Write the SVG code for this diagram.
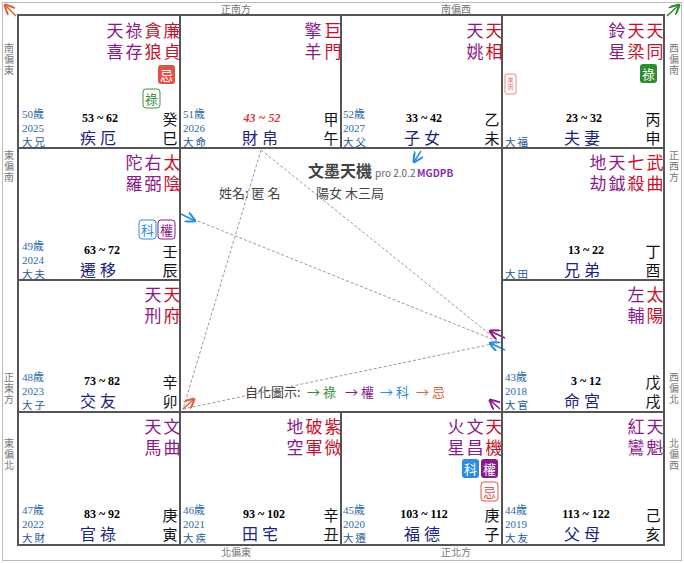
<svg xmlns="http://www.w3.org/2000/svg" width="684" height="563" viewBox="0 0 684 563">
<style>
text{font-family:"Noto Sans CJK TC","Noto Sans CJK SC",sans-serif}
.s{font-size:17px;writing-mode:tb;letter-spacing:4px}
.p{fill:#8a1a8a}.r{fill:#c8102e}
.age{font-size:11px;fill:#2e6aa8;font-family:"Liberation Serif","Noto Sans CJK TC",serif}
.dx{font-size:10.5px;fill:#1d5a9a;letter-spacing:2px}
.rg{font-size:12px;font-weight:bold;text-anchor:middle;font-family:"Liberation Serif",serif;fill:#000}
.nm{font-size:16px;fill:#1a237e;text-anchor:middle;letter-spacing:4px}
.st{font-size:15px;fill:#111;writing-mode:tb;letter-spacing:4px}
.dir{font-size:10px;fill:#777;text-anchor:middle}
.vd{font-size:10px;fill:#777;writing-mode:tb;letter-spacing:1px}
.cell{fill:none;stroke:#555;stroke-width:2}
.bt{font-size:13px;text-anchor:middle}
.ln{stroke:#999;stroke-width:1;stroke-dasharray:3,2;fill:none}
</style>
<defs>
<marker id="ab" viewBox="0 0 10 10" refX="9" refY="5" markerWidth="7" markerHeight="7" orient="auto"><path d="M0,0L10,5L0,10" fill="none" stroke="#2b8de0" stroke-width="2"/></marker>
<marker id="ap" viewBox="0 0 10 10" refX="9" refY="5" markerWidth="7" markerHeight="7" orient="auto"><path d="M0,0L10,5L0,10" fill="none" stroke="#8a1a8a" stroke-width="2"/></marker>
<marker id="ar" viewBox="0 0 10 10" refX="9" refY="5" markerWidth="7" markerHeight="7" orient="auto"><path d="M0,0L10,5L0,10" fill="none" stroke="#e06040" stroke-width="2"/></marker>
<marker id="ag" viewBox="0 0 10 10" refX="9" refY="5" markerWidth="7" markerHeight="7" orient="auto"><path d="M0,0L10,5L0,10" fill="none" stroke="#2e8b2e" stroke-width="2"/></marker>
</defs>
<rect x="0" y="0" width="684" height="563" fill="#fff"/>
<rect x="2.5" y="2.5" width="679" height="558" fill="none" stroke="#bbb"/>
<g id="directions">
<text class="dir" x="236" y="13">正南方</text><text class="dir" x="456" y="13">南偏西</text>
<text class="dir" x="236" y="556">北偏東</text><text class="dir" x="456" y="556">正北方</text>
<text class="vd" x="9" y="43">南偏東</text>
<text class="vd" x="9" y="150">東偏南</text>
<text class="vd" x="9" y="372">正東方</text>
<text class="vd" x="9" y="438">東偏北</text>
<text class="vd" x="674" y="43">西偏南</text>
<text class="vd" x="674" y="150">正西方</text>
<text class="vd" x="674" y="372">西偏北</text>
<text class="vd" x="674" y="438">北偏西</text>
</g>
<g id="connectors">
<line x1="16" y1="16" x2="5" y2="5" stroke="#e06040" stroke-width="1.5" marker-end="url(#ar)"/>
<line x1="667" y1="16" x2="679" y2="5" stroke="#2e8b2e" stroke-width="1.5" marker-end="url(#ag)"/>
<line class="ln" x1="261" y1="150" x2="183" y2="409"/>
<line class="ln" x1="261" y1="150" x2="497" y2="340"/>
<line class="ln" x1="183" y1="409" x2="497" y2="343"/>
<line class="ln" x1="193" y1="219" x2="497" y2="341"/>
<line x1="181" y1="214" x2="195" y2="221" stroke="#2b8de0" stroke-width="1.5" marker-end="url(#ab)"/>
<line x1="421" y1="151" x2="414" y2="162" stroke="#2b8de0" stroke-width="1.5" marker-end="url(#ab)"/>
<line x1="183" y1="409" x2="194" y2="399" stroke="#e06040" stroke-width="1.5" marker-end="url(#ar)"/>
<line x1="505" y1="338" x2="490" y2="331" stroke="#8a1a8a" stroke-width="1.5" marker-end="url(#ap)"/>
<line x1="505" y1="350" x2="490" y2="343" stroke="#2b8de0" stroke-width="1.5" marker-end="url(#ab)"/>
<line x1="500" y1="409" x2="490" y2="400" stroke="#8a1a8a" stroke-width="1.5" marker-end="url(#ap)"/>
</g>
<g id="center">
<text x="308" y="177" font-size="16" font-weight="bold" fill="#444">文墨天機</text>
<text x="375" y="177" font-size="10" fill="#666" font-family="Liberation Serif,serif">pro 2.0.2</text>
<text x="417" y="177" font-size="10" font-weight="bold" fill="#8a2ab0" font-family="Liberation Serif,serif">MGDPB</text>
<text x="219" y="198" font-size="13" fill="#444">姓名: 匿 名</text>
<text x="316" y="198" font-size="13" fill="#444">陽女 木三局</text>
<text x="245" y="397" font-size="13" fill="#444">自化圖示:</text>
<text x="307" y="397" font-size="13" fill="#2e8b2e">→ 祿</text>
<text x="345" y="397" font-size="13" fill="#8a1a8a">→ 權</text>
<text x="380" y="397" font-size="13" fill="#2b8de0">→ 科</text>
<text x="416" y="397" font-size="13" fill="#e06040">→ 忌</text>
</g>
<g id="palace-si">
<rect class="cell" x="18" y="15" width="162" height="133"/>
<text class="s p" x="115" y="22">天喜</text><text class="s p" x="134" y="22">祿存</text>
<text class="s r" x="153" y="22">貪狼</text><text class="s r" x="172" y="22">廉貞</text>
<rect x="158" y="65" width="17" height="19" rx="3" fill="#e0524a"/><text class="bt" x="166.5" y="80" fill="#fff">忌</text>
<rect x="143" y="89" width="17" height="19" rx="3" fill="#fff" stroke="#3a9a3a"/><text class="bt" x="151.5" y="104" fill="#2e8b2e">祿</text>
<text class="age" x="22" y="118">50歲</text><text class="age" x="22" y="132">2025</text><text class="dx" x="22" y="146">大兄</text>
<text class="rg" x="100" y="122">53 ~ 62</text><text class="nm" x="100" y="144">疾厄</text>
<text class="st" x="170" y="112">癸巳</text>
</g>
<g id="palace-wu">
<rect class="cell" x="180" y="15" width="161" height="133"/>
<text class="s p" x="313" y="22">擎羊</text><text class="s r" x="333" y="22">巨門</text>
<text class="age" x="183" y="118">51歲</text><text class="age" x="183" y="132">2026</text><text class="dx" x="183" y="146">大命</text>
<text class="rg" x="262" y="122" font-style="italic" style="fill:#d04040">43 ~ 52</text><text class="nm" x="262" y="144">財帛</text>
<text class="st" x="331" y="112">甲午</text>
</g>
<g id="palace-wei">
<rect class="cell" x="341" y="15" width="161" height="133"/>
<text class="s p" x="475" y="22">天姚</text><text class="s r" x="494" y="22">天相</text>
<text class="age" x="343" y="118">52歲</text><text class="age" x="343" y="132">2027</text><text class="dx" x="343" y="146">大父</text>
<text class="rg" x="424" y="122">33 ~ 42</text><text class="nm" x="424" y="144">子女</text>
<text class="st" x="492" y="112">乙未</text>
</g>
<g id="palace-shen">
<rect class="cell" x="502" y="15" width="162" height="133"/>
<text class="s p" x="617" y="22">鈴星</text><text class="s r" x="636" y="22">天梁</text><text class="s r" x="655" y="22">天同</text>
<rect x="640" y="64" width="17" height="19" rx="3" fill="#2e8b2e"/><text class="bt" x="648.5" y="79" fill="#fff">祿</text>
<rect x="505" y="74" width="11" height="20" rx="2" fill="#fff" stroke="#e07060" stroke-width="0.8"/>
<text x="510.5" y="77" font-size="6" fill="#e07060" writing-mode="tb" letter-spacing="1">來因</text>
<text class="dx" x="505" y="146">大福</text>
<text class="rg" x="584" y="122">23 ~ 32</text><text class="nm" x="584" y="144">夫妻</text>
<text class="st" x="653" y="112">丙申</text>
</g>
<g id="palace-chen">
<rect class="cell" x="18" y="148" width="162" height="132"/>
<text class="s p" x="134" y="154">陀羅</text><text class="s p" x="153" y="154">右弼</text><text class="s r" x="172" y="154">太陰</text>
<rect x="139" y="220" width="17" height="19" rx="3" fill="#fff" stroke="#2b8de0"/><text class="bt" x="147.5" y="235" fill="#2b8de0">科</text>
<rect x="158" y="220" width="17" height="19" rx="3" fill="#fff" stroke="#8a1a8a"/><text class="bt" x="166.5" y="235" fill="#8a1a8a">權</text>
<text class="age" x="22" y="250">49歲</text><text class="age" x="22" y="264">2024</text><text class="dx" x="22" y="278">大夫</text>
<text class="rg" x="102" y="254">63 ~ 72</text><text class="nm" x="100" y="276">遷移</text>
<text class="st" x="170" y="244">壬辰</text>
</g>
<g id="palace-you">
<rect class="cell" x="502" y="148" width="162" height="132"/>
<text class="s p" x="598" y="154">地劫</text><text class="s p" x="617" y="154">天鉞</text>
<text class="s r" x="636" y="154">七殺</text><text class="s r" x="655" y="154">武曲</text>
<text class="dx" x="505" y="278">大田</text>
<text class="rg" x="586" y="254">13 ~ 22</text><text class="nm" x="584" y="276">兄弟</text>
<text class="st" x="653" y="244">丁酉</text>
</g>
<g id="palace-mao">
<rect class="cell" x="18" y="280" width="162" height="132"/>
<text class="s p" x="153" y="286">天刑</text><text class="s r" x="172" y="286">天府</text>
<text class="age" x="22" y="381">48歲</text><text class="age" x="22" y="395">2023</text><text class="dx" x="22" y="409">大子</text>
<text class="rg" x="102" y="385">73 ~ 82</text><text class="nm" x="100" y="407">交友</text>
<text class="st" x="170" y="375">辛卯</text>
</g>
<g id="palace-xu">
<rect class="cell" x="502" y="280" width="162" height="132"/>
<text class="s p" x="636" y="286">左輔</text><text class="s r" x="655" y="286">太陽</text>
<text class="age" x="505" y="381">43歲</text><text class="age" x="505" y="395">2018</text><text class="dx" x="505" y="409">大官</text>
<text class="rg" x="586" y="385">3 ~ 12</text><text class="nm" x="584" y="407">命宮</text>
<text class="st" x="653" y="375">戊戌</text>
</g>
<g id="palace-yin">
<rect class="cell" x="18" y="412" width="162" height="133"/>
<text class="s p" x="153" y="418">天馬</text><text class="s p" x="172" y="418">文曲</text>
<text class="age" x="22" y="514">47歲</text><text class="age" x="22" y="528">2022</text><text class="dx" x="22" y="542">大財</text>
<text class="rg" x="102" y="518">83 ~ 92</text><text class="nm" x="100" y="540">官祿</text>
<text class="st" x="170" y="508">庚寅</text>
</g>
<g id="palace-chou">
<rect class="cell" x="180" y="412" width="161" height="133"/>
<text class="s p" x="295" y="418">地空</text><text class="s r" x="314" y="418">破軍</text><text class="s r" x="333" y="418">紫微</text>
<text class="age" x="183" y="514">46歲</text><text class="age" x="183" y="528">2021</text><text class="dx" x="183" y="542">大疾</text>
<text class="rg" x="264" y="518">93 ~ 102</text><text class="nm" x="262" y="540">田宅</text>
<text class="st" x="331" y="508">辛丑</text>
</g>
<g id="palace-zi">
<rect class="cell" x="341" y="412" width="161" height="133"/>
<text class="s p" x="456" y="418">火星</text><text class="s p" x="475" y="418">文昌</text><text class="s r" x="494" y="418">天機</text>
<rect x="462" y="459" width="17" height="19" rx="3" fill="#2b8de0"/><text class="bt" x="470.5" y="474" fill="#fff">科</text>
<rect x="481" y="459" width="17" height="19" rx="3" fill="#8a1a8a"/><text class="bt" x="489.5" y="474" fill="#fff">權</text>
<rect x="481" y="482" width="17" height="19" rx="3" fill="#fff" stroke="#e0524a"/><text class="bt" x="489.5" y="497" fill="#e0524a">忌</text>
<text class="age" x="343" y="514">45歲</text><text class="age" x="343" y="528">2020</text><text class="dx" x="343" y="542">大遷</text>
<text class="rg" x="424" y="518">103 ~ 112</text><text class="nm" x="424" y="540">福德</text>
<text class="st" x="492" y="508">庚子</text>
</g>
<g id="palace-hai">
<rect class="cell" x="502" y="412" width="162" height="133"/>
<text class="s p" x="636" y="418">紅鸞</text><text class="s p" x="655" y="418">天魁</text>
<text class="age" x="505" y="514">44歲</text><text class="age" x="505" y="528">2019</text><text class="dx" x="505" y="542">大友</text>
<text class="rg" x="586" y="518">113 ~ 122</text><text class="nm" x="584" y="540">父母</text>
<text class="st" x="653" y="508">己亥</text>
</g>
</svg>
